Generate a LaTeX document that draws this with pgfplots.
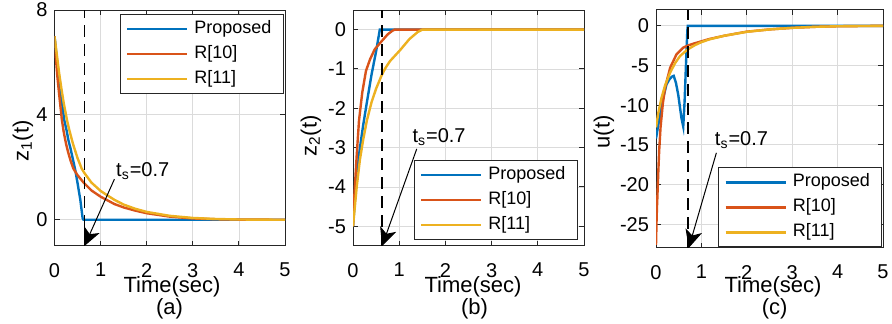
\documentclass[border=0pt]{standalone}
\usepackage{fontspec}
\setmainfont{Liberation Sans}
\usepackage{pgfplots}
\pgfplotsset{compat=1.18}
\usetikzlibrary{arrows.meta}
\definecolor{mblue}{rgb}{0,0.447,0.741}
\definecolor{mred}{rgb}{0.85,0.325,0.098}
\definecolor{myel}{rgb}{0.929,0.694,0.125}
\tikzset{
 vline/.style={black, line width=0.75pt, dash pattern=on 6pt off 3.5pt},
 tsarrow/.style={black, line width=0.5pt, -{Stealth[length=9pt,width=8.5pt,inset=2.5pt]}},
}
\pgfplotsset{
 mystyle/.style={
  scale only axis, anchor=south west,
  xmin=0, xmax=5, xtick={0,1,2,3,4,5},
  grid=major, grid style={line width=0.4pt, draw=black!14},
  axis line style={black!85, line width=0.5pt},
  major tick length=2.5pt, tick style={black!85, line width=0.5pt},
  tick label style={font=\fontsize{10}{12}\selectfont},
  /pgf/number format/assume math mode=true,
  xticklabel style={yshift=-5pt},
  legend cell align=left,
  legend image code/.code={\draw[##1] (0pt,0pt) -- (30pt,0pt);},
  legend style={font=\fontsize{9}{10}\selectfont, draw=black!85, line width=0.5pt,
    inner xsep=3pt, inner ysep=2pt,
    nodes={inner xsep=3pt, inner ysep=1pt, text height=6.5pt, text depth=2pt}, row sep=2pt},
  every axis plot/.append style={line width=1.2pt},
 },
}
\newcommand{\tsnote}{t\textsubscript{s}=0.7}
\begin{document}
\begin{tikzpicture}
\useasboundingbox (0,0) rectangle (446pt,162pt);
% ---------- (a)
\begin{axis}[mystyle, at={(27.25pt,39pt)}, width=115.25pt, height=118pt,
  ymin=-1, ymax=8, ytick={0,4,8},
  legend style={at={(1,1)}, anchor=north east, xshift=-0.5pt, yshift=-2pt}]
\addplot[mblue] coordinates {(0,7) (0.05,6.15) (0.1,5.4) (0.15,4.65) (0.21,3.81) (0.26,3.43) (0.3,3.05) (0.35,2.7) (0.4,2.3) (0.45,1.9) (0.5,1.4) (0.56,0.76) (0.61,0.06) (0.63,0) (5,0)};
\addplot[mred] coordinates {(0,7) (0.03,6.2) (0.06,5.5) (0.1,4.8) (0.16,3.81) (0.2,3.35) (0.25,2.9) (0.3,2.55) (0.35,2.25) (0.41,1.95) (0.5,1.7) (0.63,1.42) (0.8,1.12) (1.0,0.88) (1.13,0.76) (1.3,0.6) (1.5,0.47) (1.75,0.35) (2,0.25) (2.5,0.12) (3,0.05) (3.5,0.02) (4,0.008) (5,0)};
\addplot[myel] coordinates {(0,7) (0.05,6.3) (0.1,5.6) (0.15,5.0) (0.2,4.45) (0.27,3.81) (0.32,3.43) (0.4,2.9) (0.5,2.35) (0.59,1.95) (0.65,1.78) (0.8,1.42) (1.0,1.1) (1.13,0.95) (1.3,0.76) (1.5,0.58) (1.75,0.42) (2,0.3) (2.5,0.15) (3,0.07) (3.5,0.03) (4,0.01) (5,0)};
\addplot[vline, forget plot] coordinates {(0.65,-1) (0.65,8)};
\legend{Proposed,R[10],R[11]}
\draw[tsarrow] (axis cs:1.3,1.55) -- (axis cs:0.65,-1);
\node[anchor=west, inner sep=0pt, font=\fontsize{10}{12}\selectfont] at (axis cs:1.33,1.85) {\tsnote};
\end{axis}
% ---------- (b)
\begin{axis}[mystyle, at={(176.5pt,39pt)}, width=115.5pt, height=118pt,
  ymin=-5.5, ymax=0.5, ytick={-5,-4,-3,-2,-1,0},
  legend style={at={(1,0)}, anchor=south east, xshift=-3pt, yshift=3pt}]
\addplot[mblue] coordinates {(0,-5) (0.03,-4.5) (0.06,-4.0) (0.1,-3.5) (0.15,-3.0) (0.22,-2.43) (0.3,-1.85) (0.4,-1.15) (0.5,-0.55) (0.58,0) (5,0)};
\addplot[mred] coordinates {(0,-5) (0.02,-4.4) (0.04,-4.0) (0.08,-3.2) (0.13,-2.31) (0.2,-1.6) (0.28,-1.05) (0.37,-0.75) (0.47,-0.5) (0.63,-0.28) (0.75,-0.12) (0.85,-0.03) (0.9,0) (5,0)};
\addplot[myel] coordinates {(0,-5) (0.04,-4.5) (0.08,-4.0) (0.15,-3.3) (0.22,-2.8) (0.3,-2.31) (0.4,-1.85) (0.5,-1.5) (0.62,-1.16) (0.7,-0.98) (0.8,-0.8) (1.02,-0.52) (1.22,-0.24) (1.4,-0.06) (1.5,0) (5,0)};
\addplot[vline, forget plot] coordinates {(0.63,-5.5) (0.63,0.5)};
\legend{Proposed,R[10],R[11]}
\draw[tsarrow] (axis cs:1.38,-3.03) -- (axis cs:0.63,-5.5);
\node[anchor=west, inner sep=0pt, font=\fontsize{10}{12}\selectfont] at (axis cs:1.28,-2.72) {\tsnote};
\end{axis}
% ---------- (c)
\begin{axis}[mystyle, at={(328pt,38pt)}, width=113.5pt, height=119pt,
  ymin=-28, ymax=2, ytick={-25,-20,-15,-10,-5,0},
  legend style={at={(1,0)}, anchor=south east, xshift=-0.3pt, yshift=0.3pt}]
\addplot[mblue] coordinates {(0,-14.2) (0.05,-12.5) (0.09,-11.2) (0.15,-9.3) (0.23,-7.4) (0.3,-6.7) (0.35,-6.4) (0.39,-6.3) (0.44,-7.2) (0.49,-8.7) (0.56,-11.6) (0.6,-12.7) (0.63,-9.5) (0.66,-4.9) (0.69,-0.6) (0.7,0) (5,0)};
\addplot[mred] coordinates {(0,-27.6) (0.01,-25) (0.02,-23) (0.03,-21.6) (0.05,-18.5) (0.07,-15.7) (0.1,-12.8) (0.15,-9.8) (0.2,-7.8) (0.31,-5.3) (0.45,-3.6) (0.6,-2.75) (0.69,-2.5) (0.85,-2.2) (1.0,-1.95) (1.18,-1.65) (1.5,-1.25) (2,-0.73) (2.5,-0.45) (3,-0.25) (3.5,-0.12) (4,-0.05) (4.5,-0.02) (5,0)};
\addplot[myel] coordinates {(0,-12.8) (0.05,-11) (0.12,-9.1) (0.2,-7.5) (0.31,-5.9) (0.42,-4.7) (0.53,-3.8) (0.69,-3.0) (0.85,-2.45) (1.0,-2.05) (1.18,-1.7) (1.5,-1.25) (2,-0.75) (2.5,-0.45) (3,-0.25) (3.5,-0.12) (4,-0.05) (4.5,-0.02) (5,0)};
\addplot[vline, forget plot] coordinates {(0.7,-28) (0.7,2)};
\legend{Proposed,R[10],R[11]}
\draw[tsarrow] (axis cs:1.33,-16) -- (axis cs:0.72,-28);
\node[anchor=west, inner sep=0pt, font=\fontsize{10}{12}\selectfont] at (axis cs:1.29,-14.4) {\tsnote};
\end{axis}
% ---------- labels
\begin{scope}[font=\fontsize{11}{13}\selectfont]
\node[rotate=90] at (11.5pt,91.5pt) {z\textsubscript{1}(t)};
\node[rotate=90] at (155.5pt,94pt) {z\textsubscript{2}(t)};
\node[rotate=90] at (302pt,96pt) {u(t)};
\node[anchor=base] at (86pt,15.5pt) {Time(sec)};
\node[anchor=base] at (236.5pt,15.5pt) {Time(sec)};
\node[anchor=base] at (386.5pt,15.5pt) {Time(sec)};
\node[anchor=base] at (84.75pt,4.5pt) {(a)};
\node[anchor=base] at (237.3pt,4.5pt) {(b)};
\node[anchor=base] at (387.3pt,4.5pt) {(c)};
\end{scope}
\end{tikzpicture}
\end{document}
